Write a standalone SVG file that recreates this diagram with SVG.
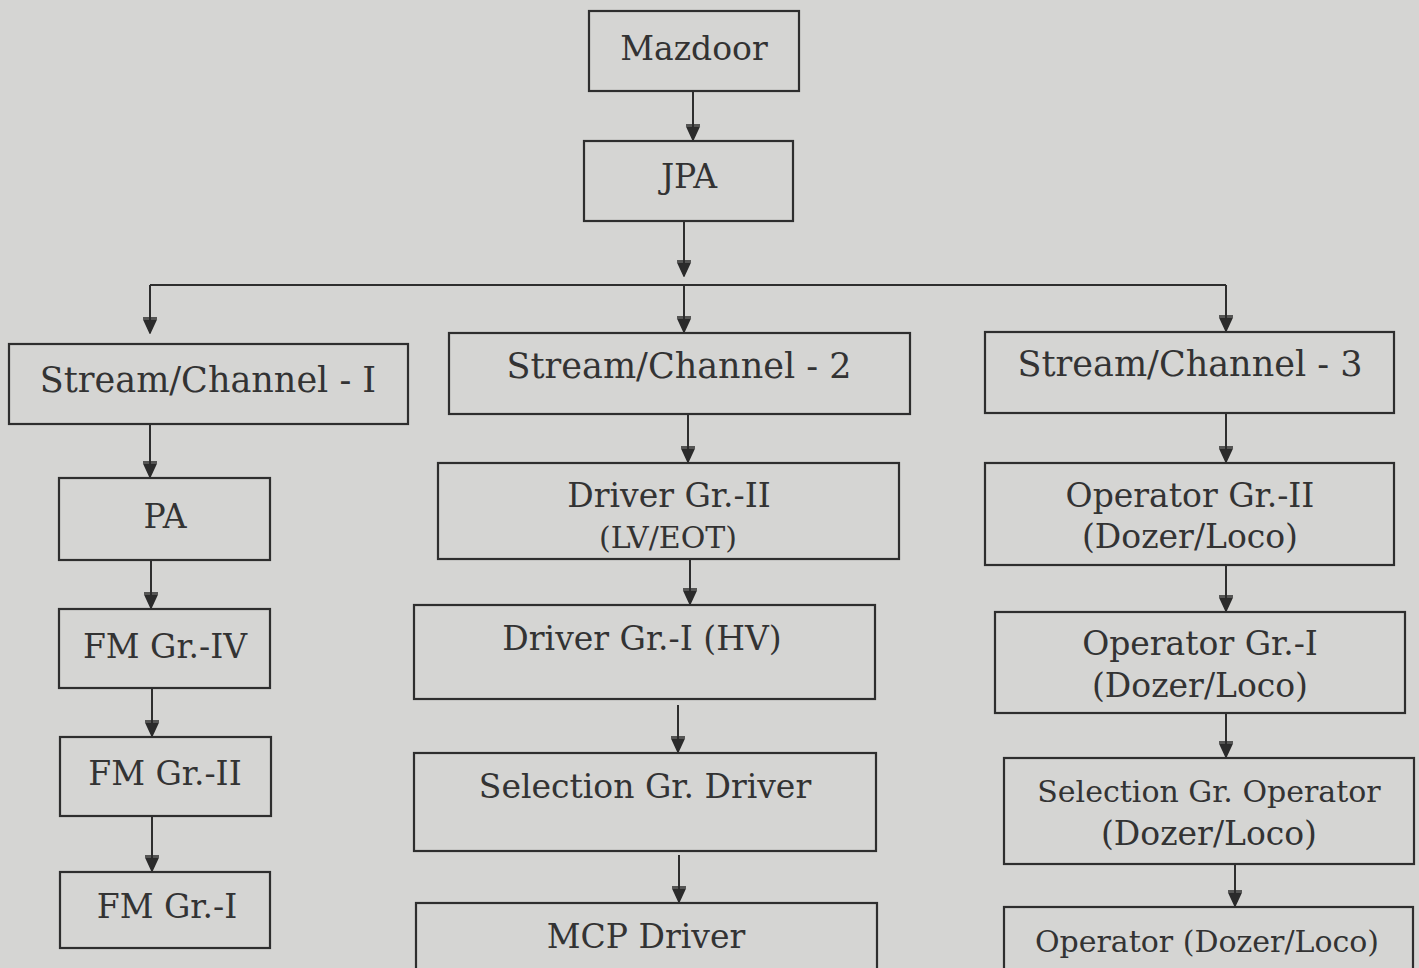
<svg xmlns="http://www.w3.org/2000/svg" width="1419" height="968" viewBox="0 0 1419 968">
<defs>
<marker id="ah" markerWidth="18" markerHeight="16" refX="17" refY="8" orient="auto" markerUnits="userSpaceOnUse" viewBox="0 0 18 16">
<path d="M2,1 L2,15 M4,2 L4,14 L17,8 Z" fill="#2b2b2b" stroke="#2b2b2b" stroke-width="1.5"/>
</marker>
</defs>
<style>
.box{fill:none;stroke:#2e2e2e;stroke-width:2.2}
.t{font-family:"DejaVu Serif","Liberation Serif",serif;fill:#333;text-anchor:middle;font-size:33px}
.st{font-size:35px}
.s{font-size:30px}
.c{stroke:#2e2e2e;stroke-width:2;fill:none}
</style>
<rect x="0" y="0" width="1419" height="968" fill="#d5d5d3"/>
<g id="connectors">
<line class="c" x1="693" y1="91" x2="693" y2="140" marker-end="url(#ah)"/>
<line class="c" x1="684" y1="221" x2="684" y2="276" marker-end="url(#ah)"/>
<line class="c" x1="150" y1="285" x2="1226" y2="285"/>
<line class="c" x1="150" y1="285" x2="150" y2="333" marker-end="url(#ah)"/>
<line class="c" x1="684" y1="285" x2="684" y2="332" marker-end="url(#ah)"/>
<line class="c" x1="1226" y1="285" x2="1226" y2="331" marker-end="url(#ah)"/>
<line class="c" x1="150" y1="424" x2="150" y2="477" marker-end="url(#ah)"/>
<line class="c" x1="151" y1="560" x2="151" y2="608" marker-end="url(#ah)"/>
<line class="c" x1="152" y1="688" x2="152" y2="736" marker-end="url(#ah)"/>
<line class="c" x1="152" y1="816" x2="152" y2="871" marker-end="url(#ah)"/>
<line class="c" x1="688" y1="414" x2="688" y2="462" marker-end="url(#ah)"/>
<line class="c" x1="690" y1="559" x2="690" y2="604" marker-end="url(#ah)"/>
<line class="c" x1="678" y1="705" x2="678" y2="752" marker-end="url(#ah)"/>
<line class="c" x1="679" y1="855" x2="679" y2="902" marker-end="url(#ah)"/>
<line class="c" x1="1226" y1="413" x2="1226" y2="462" marker-end="url(#ah)"/>
<line class="c" x1="1226" y1="565" x2="1226" y2="611" marker-end="url(#ah)"/>
<line class="c" x1="1226" y1="713" x2="1226" y2="757" marker-end="url(#ah)"/>
<line class="c" x1="1235" y1="864" x2="1235" y2="906" marker-end="url(#ah)"/>
</g>
<g id="mazdoor"><rect class="box" x="589" y="11" width="210" height="80"/><text class="t" x="694" y="60">Mazdoor</text></g>
<g id="jpa"><rect class="box" x="584" y="141" width="209" height="80"/><text class="t" x="689" y="188">JPA</text></g>
<g id="stream1"><rect class="box" x="9" y="344" width="399" height="80"/><text class="t st" x="208" y="392">Stream/Channel - I</text></g>
<g id="stream2"><rect class="box" x="449" y="333" width="461" height="81"/><text class="t st" x="679" y="378">Stream/Channel - 2</text></g>
<g id="stream3"><rect class="box" x="985" y="332" width="409" height="81"/><text class="t st" x="1190" y="376">Stream/Channel - 3</text></g>
<g id="pa"><rect class="box" x="59" y="478" width="211" height="82"/><text class="t" x="165" y="528">PA</text></g>
<g id="fm4"><rect class="box" x="59" y="609" width="211" height="79"/><text class="t" x="165" y="658">FM Gr.-IV</text></g>
<g id="fm2"><rect class="box" x="60" y="737" width="211" height="79"/><text class="t" x="165" y="785">FM Gr.-II</text></g>
<g id="fm1"><rect class="box" x="60" y="872" width="210" height="76"/><text class="t" x="167" y="918">FM Gr.-I</text></g>
<g id="driver2"><rect class="box" x="438" y="463" width="461" height="96"/><text class="t" x="669" y="507">Driver Gr.-II</text><text class="t s" x="668" y="548">(LV/EOT)</text></g>
<g id="driver1"><rect class="box" x="414" y="605" width="461" height="94"/><text class="t" x="642" y="650">Driver Gr.-I (HV)</text></g>
<g id="selDriver"><rect class="box" x="414" y="753" width="462" height="98"/><text class="t" x="645" y="798">Selection Gr. Driver</text></g>
<g id="mcpDriver"><rect class="box" x="416" y="903" width="461" height="70"/><text class="t" x="646" y="948">MCP Driver</text></g>
<g id="op2"><rect class="box" x="985" y="463" width="409" height="102"/><text class="t" x="1190" y="507">Operator Gr.-II</text><text class="t" x="1190" y="548">(Dozer/Loco)</text></g>
<g id="op1"><rect class="box" x="995" y="612" width="410" height="101"/><text class="t" x="1200" y="655">Operator Gr.-I</text><text class="t" x="1200" y="697">(Dozer/Loco)</text></g>
<g id="selOp"><rect class="box" x="1004" y="758" width="410" height="106"/><text class="t s" x="1209" y="802">Selection Gr. Operator</text><text class="t" x="1209" y="845">(Dozer/Loco)</text></g>
<g id="opDozer"><rect class="box" x="1004" y="907" width="409" height="70"/><text class="t s" x="1207" y="952">Operator (Dozer/Loco)</text></g>
</svg>
